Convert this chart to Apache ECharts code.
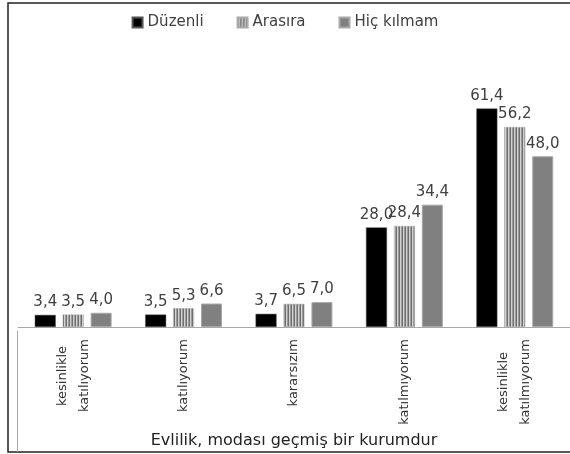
<!DOCTYPE html>
<html><head><meta charset="utf-8">
<script src="https://cdn.jsdelivr.net/npm/echarts@6/dist/echarts.min.js"></script>
<style>html,body{margin:0;padding:0;background:#fff}#c{width:570px;height:454px}</style>
</head><body><div id="c"></div>
<script>
const categories = ['kesinlikle\nkatılıyorum', 'katılıyorum', 'kararsızım', 'katılmıyorum', 'kesinlikle\nkatılmıyorum'];
const seriesNames = ['Düzenli', 'Arasıra', 'Hiç kılmam'];
const duzenli = [3.4, 3.5, 3.7, 28.0, 61.4];
const arasira = [3.5, 5.3, 6.5, 28.4, 56.2];
const hicKilmam = [4.0, 6.6, 7.0, 34.4, 48.0];
const axisTitle = 'Evlilik, modası geçmiş bir kurumdur';

const FONT = '"DejaVu Sans", Verdana, sans-serif';
const catFontSize = 13;

// stripe pattern
const pc = document.createElement('canvas');
pc.width = 3; pc.height = 4;
const pctx = pc.getContext('2d');
['#6e6e6e', '#d2d2d2', '#9c9c9c'].forEach((c, i) => { pctx.fillStyle = c; pctx.fillRect(i, 0, 1, 4); });
const stripe = { image: pc, repeat: 'repeat' };

const mc = document.createElement('canvas').getContext('2d');
mc.font = catFontSize + 'px ' + FONT;

// rich styles: first line centred within width of the longest line
const rich = {};
categories.forEach((v, i) => {
  const parts = v.split('\n');
  if (parts.length > 1) {
    const w = Math.ceil(Math.max(...parts.map(p => mc.measureText(p).width)));
    rich['c' + i] = { width: w, align: 'center', fontFamily: FONT, fontSize: catFontSize, color: '#333', lineHeight: 22 };
  }
});

const chart = echarts.init(document.getElementById('c'));
const lbl = {
  show: true, position: 'top', distance: 5,
  fontFamily: FONT, fontSize: 15, color: '#404040',
  formatter: p => p.value.toFixed(1).replace('.', ',')
};
chart.setOption({
  animation: false,
  legend: {
    top: 10, left: 'center', itemWidth: 10, itemHeight: 10, itemGap: 33, icon: 'rect',
    textStyle: { fontFamily: FONT, fontSize: 15, color: '#404040' },
    data: seriesNames
  },
  grid: { left: 18, right: -4, top: 78, bottom: 123 },
  xAxis: {
    type: 'category', data: categories,
    axisLine: { lineStyle: { color: '#a8a8a8', width: 1 } },
    axisTick: { show: false },
    axisLabel: {
      interval: 0, rotate: 90, margin: 12,
      fontFamily: FONT, fontSize: catFontSize, color: '#333', lineHeight: 22,
      formatter: (v, i) => {
        const parts = v.split('\n');
        if (parts.length < 2) return v;
        return '{c' + i + '|' + parts[0] + '}\n' + parts[1];
      },
      rich: rich
    },
    name: axisTitle, nameLocation: 'middle', nameGap: 106,
    nameTextStyle: { fontFamily: FONT, fontSize: 16, color: '#222' }
  },
  yAxis: { type: 'value', min: 0, max: 70, show: false, splitLine: { show: false } },
  series: [
    { name: seriesNames[0], type: 'bar', data: duzenli, barWidth: 21, barGap: '33%',
      itemStyle: { color: '#000', borderColor: '#555', borderWidth: 0.5 }, label: lbl },
    { name: seriesNames[1], type: 'bar', data: arasira, barWidth: 21, barGap: '33%',
      itemStyle: { color: stripe, borderColor: '#aaa', borderWidth: 0.5 }, label: lbl },
    { name: seriesNames[2], type: 'bar', data: hicKilmam, barWidth: 21, barGap: '33%',
      itemStyle: { color: '#808080', borderColor: '#a8a8a8', borderWidth: 1 }, label: lbl }
  ],
  graphic: [
    { type: 'polyline', shape: { points: [[580, 3], [8, 3], [8, 452], [580, 452]] }, style: { fill: null, stroke: '#222', lineWidth: 1.5 }, silent: true },
    { type: 'line', shape: { x1: 17.5, y1: 331, x2: 17.5, y2: 452 }, style: { stroke: '#a8a8a8', lineWidth: 1 }, silent: true }
  ]
});
</script>
</body></html>
